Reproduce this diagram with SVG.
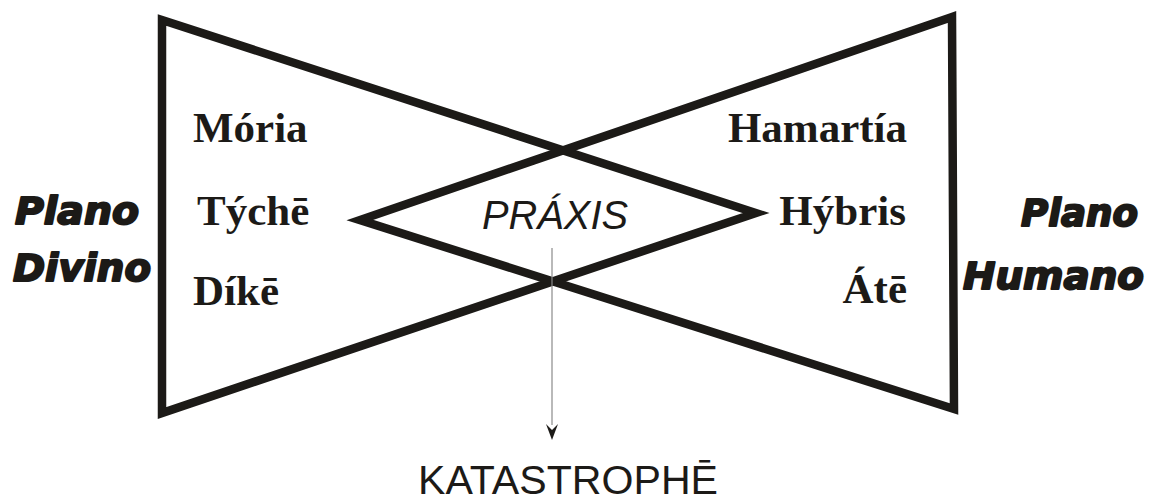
<svg xmlns="http://www.w3.org/2000/svg" width="1149" height="500" viewBox="0 0 1149 500">
<style>
.tri{fill:none;stroke:#1c1a17;stroke-width:8.5;stroke-linejoin:miter;stroke-miterlimit:10}
.gr{font-family:"Liberation Serif","DejaVu Serif",serif;font-weight:bold;font-size:43px;fill:#1c1a17}
.pl{font-family:"DejaVu Sans","Liberation Sans",sans-serif;font-weight:bold;font-style:italic;font-size:37px;fill:#1c1a17;stroke:#1c1a17;stroke-width:2;stroke-linejoin:round}
.sa{font-family:"Liberation Sans",Arial,sans-serif;font-size:40px;fill:#1c1a17}
</style>
<rect width="1149" height="500" fill="#fff"/>
<g id="shapes">
<polygon id="triangulo-divino" class="tri" points="162,20 756,213 162,413"/>
<polygon id="triangulo-humano" class="tri" points="952,17 360,220 954,409"/>
</g>
<g id="connectors">
<line x1="552" y1="248" x2="552" y2="425" stroke="#8a8a8a" stroke-width="1.2"/>
<path d="M546,424 L552,430 L558,424 L552,440 Z" fill="#1c1a17"/>
</g>
<g id="moria"><text class="gr" x="193" y="142">Mória</text></g>
<g id="tyche"><text class="gr" x="197" y="225">Týchē</text></g>
<g id="dike"><text class="gr" x="193" y="305">Díkē</text></g>
<g id="hamartia"><text class="gr" x="907" y="142" text-anchor="end">Hamartía</text></g>
<g id="hybris"><text class="gr" x="906" y="225" text-anchor="end">Hýbris</text></g>
<g id="ate"><text class="gr" x="907" y="303" text-anchor="end">Átē</text></g>
<g id="plano-divino">
<text class="pl" x="15" y="224" textLength="124" lengthAdjust="spacingAndGlyphs">Plano</text>
<text class="pl" x="13" y="281" textLength="138" lengthAdjust="spacingAndGlyphs">Divino</text>
</g>
<g id="plano-humano">
<text class="pl" x="1021" y="226" textLength="117" lengthAdjust="spacingAndGlyphs">Plano</text>
<text class="pl" x="963" y="289" textLength="181" lengthAdjust="spacingAndGlyphs">Humano</text>
</g>
<g id="praxis"><text class="sa" x="482" y="229" font-style="italic" textLength="146" lengthAdjust="spacingAndGlyphs">PRÁXIS</text></g>
<g id="katastrophe"><text class="sa" x="418" y="494" font-size="42" textLength="300" lengthAdjust="spacingAndGlyphs">KATASTROPHĒ</text></g>
</svg>
